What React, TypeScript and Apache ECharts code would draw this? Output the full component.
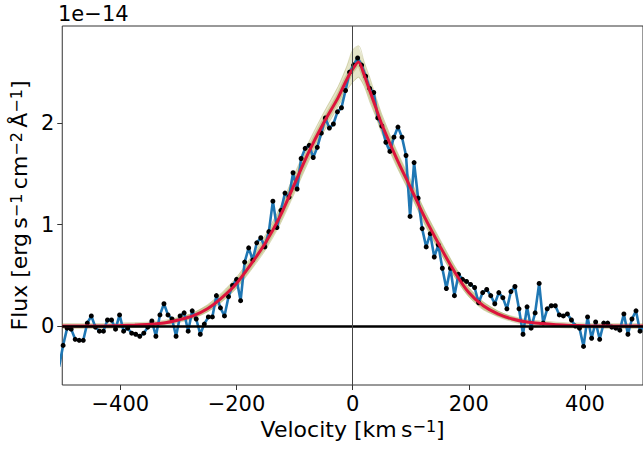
import React, { useEffect, useRef } from "react";
import * as echarts from "echarts";

// Spectral pixel grid (km/s): first pixel and pixel width
const V_START = -505.5;
const V_STEP = 6.947;

// Observed flux (units of 1e-14 erg s^-1 cm^-2 Å^-1), one value per pixel
const FLUX = [
  -0.40, -0.19, -0.02, -0.03, -0.13, -0.14, -0.14, 0.03, 0.10, -0.01,
  -0.05, -0.05, 0.06, 0.06, -0.03, 0.11, -0.05, -0.02, -0.07, -0.08,
  -0.10, -0.07, -0.01, 0.05, -0.10, 0.11, 0.22, 0.11, 0.07, -0.10,
  0.10, 0.13, -0.05, 0.15, 0.07, -0.08, 0.02, 0.09, 0.09, 0.30,
  0.18, 0.10, 0.29, 0.40, 0.46, 0.25, 0.63, 0.77, 0.65, 0.82,
  0.87, 0.78, 0.93, 1.23, 0.97, 1.14, 1.31, 1.27, 1.51, 1.35,
  1.65, 1.75, 1.78, 1.66, 1.76, 1.90, 2.05, 1.95, 1.99, 2.11,
  2.15, 2.32, 2.50, 2.57, 2.64, 2.57, 2.46, 2.34, 2.30, 2.05,
  1.97, 1.81, 1.72, 1.86, 1.96, 1.86, 1.68, 1.08, 1.61, 1.26,
  0.96, 0.78, 0.91, 0.68, 0.80, 0.57, 0.37, 0.57, 0.30, 0.51,
  0.46, 0.44, 0.41, 0.38, 0.23, 0.33, 0.36, 0.30, 0.22, 0.33,
  0.28, 0.17, 0.34, 0.39, 0.17, -0.08, 0.19, -0.02, 0.13, 0.42,
  0.03, 0.17, 0.20, 0.20, 0.11, 0.10, 0.12, 0.06, 0.00, -0.02,
  -0.20, 0.09, -0.12, 0.04, -0.13, 0.03, 0.03, -0.01, -0.02, -0.04,
  0.12, -0.08, 0.07, 0.15, -0.05, 0.00,
];

// Best-fit model profile
const MODEL_V = [
  -500, -475, -450, -425, -400, -375, -350, -325, -300, -275,
  -250, -225, -200, -175, -150, -125, -100, -75, -50, -25,
  -10, 0, 10, 20, 30, 40, 50,
  75, 100, 125, 150, 175, 200, 225, 250, 275, 300,
  325, 350, 375, 400, 425, 450, 475, 500,
];
const MODEL_F = [
  0, 0, 0.001, 0.002, 0.005, 0.01, 0.017, 0.03, 0.06, 0.10,
  0.17, 0.28, 0.42, 0.61, 0.82, 1.08, 1.40, 1.72, 2.00, 2.25,
  2.43, 2.53, 2.60, 2.47, 2.31, 2.15, 1.99,
  1.66, 1.36, 1.06, 0.79, 0.54, 0.33, 0.20, 0.12, 0.07, 0.04,
  0.025, 0.014, 0.007, 0.003, 0.001, 0, 0, 0,
];
// Envelope of posterior sample profiles
const BAND_UP = [
  0.003, 0.003, 0.004, 0.006, 0.01, 0.016, 0.026, 0.043, 0.08, 0.13,
  0.21, 0.33, 0.48, 0.68, 0.90, 1.17, 1.50, 1.82, 2.10, 2.36,
  2.56, 2.72, 2.76, 2.60, 2.44, 2.26, 2.09,
  1.74, 1.44, 1.13, 0.86, 0.60, 0.38, 0.24, 0.15, 0.09, 0.05,
  0.032, 0.02, 0.012, 0.008, 0.005, 0.004, 0.003, 0.003,
];
const BAND_LO = [
  0, 0, 0, 0, 0.002, 0.005, 0.01, 0.02, 0.045, 0.08,
  0.14, 0.24, 0.37, 0.55, 0.75, 1.00, 1.31, 1.63, 1.91, 2.16,
  2.32, 2.40, 2.45, 2.36, 2.20, 2.06, 1.90,
  1.58, 1.29, 0.99, 0.73, 0.49, 0.29, 0.16, 0.10, 0.055, 0.03,
  0.018, 0.01, 0.004, 0.002, 0, 0, 0, 0,
];

const X_TICKS = [-400, -200, 0, 200, 400];
const Y_TICKS = [0, 1, 2];
const OFFSET_TEXT = "1e\u221214";

const FONT = "DejaVu Sans";

export default function App() {
  const ref = useRef<HTMLDivElement>(null);
  useEffect(() => {
    const chart = echarts.init(ref.current!, null, { renderer: "svg" });
    const dataPts = FLUX.map((f, i) => [V_START + V_STEP * i, f]);
    const model = MODEL_V.map((v, i) => [v, MODEL_F[i]]);
    const lo = MODEL_V.map((v, i) => [v, BAND_LO[i]]);
    const up = MODEL_V.map((v, i) => [v, BAND_UP[i]]);
    const bandData = MODEL_V.map((v, i) => [v, BAND_LO[i], BAND_UP[i]]);
    const sup = { fontSize: 16, verticalAlign: "top", fontFamily: FONT, color: "#000" };
    const minus = (v: number) => String(v).replace("-", "\u2212");
    chart.setOption({
      animation: false,
      grid: {
        left: 58,
        right: -1,
        top: 26,
        bottom: 67,
        show: true,
        borderColor: "#333",
        borderWidth: 1,
        backgroundColor: "transparent",
      },
      xAxis: {
        type: "value",
        min: -500,
        max: 500,
        axisLine: { show: false, onZero: false },
        splitLine: { show: false },
        axisTick: { show: true, customValues: X_TICKS, length: 5, lineStyle: { color: "#333" } },
        axisLabel: {
          customValues: X_TICKS,
          formatter: minus,
          fontSize: 21,
          fontFamily: FONT,
          color: "#000",
          margin: 8,
        },
        name: "Velocity [km\u2009s{sup|\u22121}]",
        nameLocation: "middle",
        nameGap: 33,
        nameTextStyle: { fontSize: 22, fontFamily: FONT, color: "#000", rich: { sup } },
      },
      yAxis: {
        type: "value",
        min: -0.58,
        max: 2.955,
        axisLine: { show: false, onZero: false },
        splitLine: { show: false },
        axisTick: { show: true, customValues: Y_TICKS, length: 5, lineStyle: { color: "#333" } },
        axisLabel: {
          customValues: Y_TICKS,
          formatter: minus,
          fontSize: 21,
          fontFamily: FONT,
          color: "#000",
          margin: 8,
        },
        name: "Flux [erg\u2009s{sup|\u22121}\u2009cm{sup|\u22122}\u2009\u00c5{sup|\u22121}]",
        nameLocation: "middle",
        nameRotate: 90,
        nameGap: 26,
        nameTextStyle: { fontSize: 22, fontFamily: FONT, color: "#000", rich: { sup } },
      },
      graphic: [
        {
          type: "text",
          left: 58,
          top: 3,
          style: { text: OFFSET_TEXT, fontSize: 21, fontFamily: FONT, fill: "#000" },
        },
      ],
      series: [
        {
          type: "line",
          data: [],
          z: 1,
          silent: true,
          markLine: {
            silent: true,
            symbol: "none",
            label: { show: false },
            data: [
              { yAxis: 0, lineStyle: { color: "#000", width: 2.5, type: "solid" } },
              { xAxis: 0, lineStyle: { color: "#444", width: 1, type: "solid" } },
            ],
          },
        },
        {
          type: "custom",
          data: bandData,
          encode: { x: 0, y: [1, 2] },
          clip: true,
          z: 2,
          silent: true,
          renderItem: (params: any, api: any) => {
            if (params.dataIndex !== 0) return null;
            const pts: number[][] = [];
            for (let i = 0; i < MODEL_V.length; i++) pts.push(api.coord([MODEL_V[i], BAND_UP[i]]));
            for (let i = MODEL_V.length - 1; i >= 0; i--) pts.push(api.coord([MODEL_V[i], BAND_LO[i]]));
            return {
              type: "polygon",
              shape: { points: pts },
              style: { fill: "rgba(150,150,40,0.25)", stroke: "none" },
            };
          },
        },
        {
          type: "line",
          data: up,
          smooth: 0.3,
          showSymbol: false,
          lineStyle: { width: 1, color: "rgba(150,150,60,0.3)" },
          z: 2,
          silent: true,
        },
        {
          type: "line",
          data: lo,
          smooth: 0.3,
          showSymbol: false,
          lineStyle: { width: 1, color: "rgba(150,150,60,0.3)" },
          z: 2,
          silent: true,
        },
        {
          type: "line",
          data: model,
          smooth: 0.3,
          showSymbol: false,
          lineStyle: { width: 6, color: "rgba(140,140,40,0.3)" },
          z: 2,
          silent: true,
        },
        {
          type: "line",
          data: dataPts,
          showSymbol: true,
          symbol: "circle",
          symbolSize: 5,
          itemStyle: { color: "#000", borderWidth: 0 },
          lineStyle: { width: 2.6, color: "#1f77b4" },
          z: 3,
          silent: true,
        },
        {
          type: "line",
          data: model,
          smooth: 0.3,
          showSymbol: false,
          lineStyle: { width: 3, color: "#dc143c" },
          z: 4,
          silent: true,
        },
      ],
    });
    return () => chart.dispose();
  }, []);
  return (
    <div
      ref={ref}
      style={{ position: "fixed", left: 0, top: 0, width: 643, height: 452, background: "#fff" }}
    />
  );
}
